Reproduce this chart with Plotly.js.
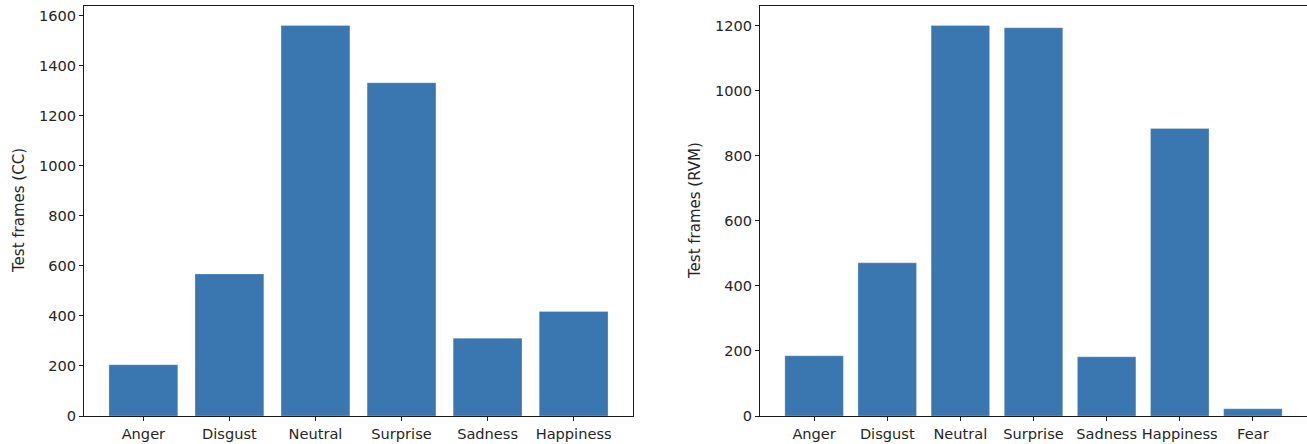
<!DOCTYPE html>
<html>
<head>
<meta charset="utf-8">
<script src="https://cdn.plot.ly/plotly-3.0.1.min.js"></script>
<style>html,body{margin:0;padding:0;background:#fff;}#chart{width:1307px;height:444px;}</style>
</head>
<body>
<div id="chart"></div>
<script>
const ccCategories = ["Anger", "Disgust", "Neutral", "Surprise", "Sadness", "Happiness"];
const ccValues = [205, 568, 1561, 1332, 311, 418];
const rvmCategories = ["Anger", "Disgust", "Neutral", "Surprise", "Sadness", "Happiness", "Fear"];
const rvmValues = [185, 471, 1201, 1194, 182, 884, 22];
const ccTitle = "Test frames (CC)";
const rvmTitle = "Test frames (RVM)";

const barColor = "#3a76af";
const fontFam = "DejaVu Sans, sans-serif";
const txtColor = "#262626";

const traces = [
  {type: "bar", x: ccCategories, y: ccValues, xaxis: "x", yaxis: "y", width: 0.8,
   marker: {color: barColor, line: {color: "rgba(255,255,255,0.45)", width: 0.6}}, hoverinfo: "x+y"},
  {type: "bar", x: rvmCategories, y: rvmValues, xaxis: "x2", yaxis: "y2", width: 0.8,
   marker: {color: barColor, line: {color: "rgba(255,255,255,0.45)", width: 0.6}}, hoverinfo: "x+y"}
];

const H = 444, W = 1307;
const yDom = [1 - 416 / H, 1 - 6 / H];
const common = {
  showline: true, mirror: true, linecolor: "#1a1a1a", linewidth: 1,
  ticks: "outside", ticklen: 4, tickwidth: 1, tickcolor: "#1a1a1a",
  showgrid: false, zeroline: false,
  tickfont: {family: fontFam, size: 14.6, color: txtColor}
};

const layout = {
  width: W, height: H,
  margin: {l: 0, r: 0, t: 0, b: 0},
  paper_bgcolor: "#fff", plot_bgcolor: "#fff",
  showlegend: false,
  bargap: 0.2,
  xaxis: Object.assign({}, common, {domain: [84 / W, 633 / W], range: [-0.69, 5.69], type: "category", anchor: "y"}),
  yaxis: Object.assign({}, common, {domain: yDom, range: [0, 1639], dtick: 200, tick0: 0, anchor: "x"}),
  xaxis2: Object.assign({}, common, {domain: [760 / W, 1], range: [-0.74, 6.74], type: "category", anchor: "y2"}),
  yaxis2: Object.assign({}, common, {domain: yDom, range: [0, 1261], dtick: 200, tick0: 0, anchor: "x2"}),
  annotations: [
    {text: ccTitle, xref: "paper", yref: "paper", x: 19 / W, y: (yDom[0] + yDom[1]) / 2,
     textangle: -90, showarrow: false, xanchor: "center", yanchor: "middle",
     font: {family: fontFam, size: 15, color: txtColor}},
    {text: rvmTitle, xref: "paper", yref: "paper", x: 695 / W, y: (yDom[0] + yDom[1]) / 2,
     textangle: -90, showarrow: false, xanchor: "center", yanchor: "middle",
     font: {family: fontFam, size: 15, color: txtColor}}
  ]
};

Plotly.newPlot("chart", traces, layout, {displayModeBar: false, staticPlot: true});
</script>
</body>
</html>
